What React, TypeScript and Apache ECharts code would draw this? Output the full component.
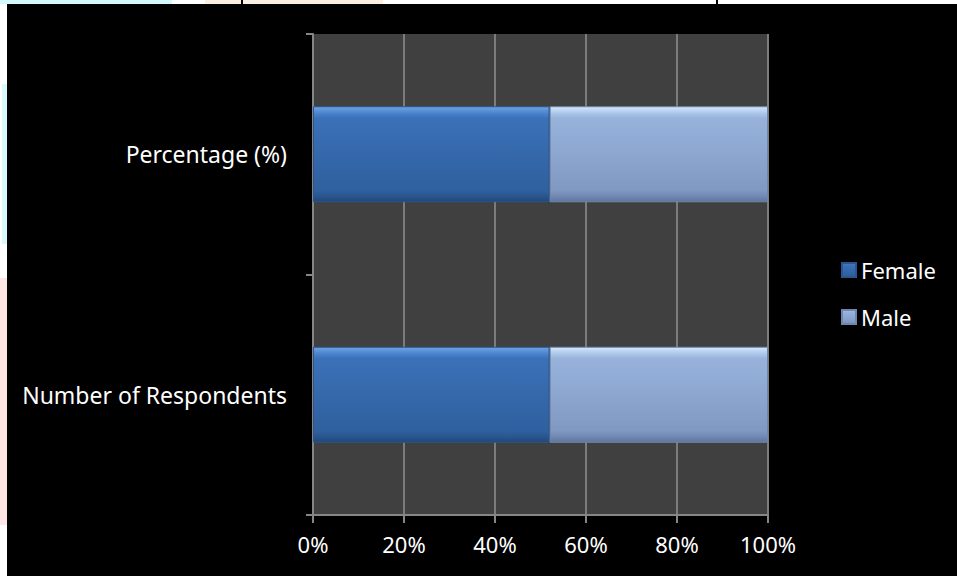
import React, { useEffect, useRef } from "react";
import * as echarts from "echarts";

// Survey breakdown by gender, shown as 100% stacked bars
const categories = ["Number of Respondents", "Percentage (%)"];
const seriesNames = ["Female", "Male"];
const femaleValues = [52, 52];
const maleValues = [48, 48];
const xTicks = [0, 20, 40, 60, 80, 100];

const FONT = "'Noto Sans', 'DejaVu Sans', sans-serif";

function bevel(stops: [number, string][]) {
  return new echarts.graphic.LinearGradient(
    0,
    0,
    0,
    1,
    stops.map(([offset, color]) => ({ offset, color }))
  );
}

const femaleFill = () =>
  bevel([
    [0, "#6fa4e4"],
    [0.07, "#4a84cc"],
    [0.12, "#3b71b8"],
    [0.88, "#2f609f"],
    [0.94, "#2a568f"],
    [1, "#22477a"],
  ]);

const maleFill = () =>
  bevel([
    [0, "#d6e8fb"],
    [0.07, "#abc6e9"],
    [0.12, "#97b3dc"],
    [0.88, "#8099c3"],
    [0.94, "#7189b3"],
    [1, "#5f769e"],
  ]);

export default function App() {
  const ref = useRef<HTMLDivElement>(null);

  useEffect(() => {
    if (!ref.current) return;
    const chart = echarts.init(ref.current, null, { renderer: "svg" });
    const values = [femaleValues, maleValues];
    const fills = [femaleFill, maleFill];
    const borders = ["#2a5590", "#6f86ad"];

    chart.setOption({
      animation: false,
      backgroundColor: "#ffffff",
      graphic: [
        // page strips around the dark panel
        { type: "rect", shape: { x: 0, y: 0, width: 172, height: 4 }, style: { fill: "#d4f8fb" }, silent: true },
        { type: "rect", shape: { x: 205, y: 0, width: 178, height: 4 }, style: { fill: "#fdeee2" }, silent: true },
        { type: "rect", shape: { x: 241, y: 0, width: 2, height: 4 }, style: { fill: "#000000" }, silent: true },
        { type: "rect", shape: { x: 716, y: 0, width: 2, height: 4 }, style: { fill: "#000000" }, silent: true },
        { type: "rect", shape: { x: 2, y: 84, width: 5, height: 160 }, style: { fill: "#d8f9fb" }, silent: true },
        { type: "rect", shape: { x: 0, y: 278, width: 7, height: 247 }, style: { fill: "#fde6e4" }, silent: true },
        {
          type: "rect",
          z: -10,
          shape: { x: 7, y: 4, width: 950, height: 572 },
          style: { fill: "#000000" },
          silent: true,
        },
      ],
      grid: {
        left: 313,
        right: 189,
        top: 34,
        bottom: 61,
        show: true,
        backgroundColor: "#404040",
        borderWidth: 0,
      },
      legend: {
        orient: "vertical",
        left: 841,
        top: 259,
        padding: 0,
        itemWidth: 14,
        itemHeight: 14,
        itemGap: 25,
        icon: "rect",
        data: seriesNames,
        textStyle: {
          color: "#ffffff",
          fontFamily: FONT,
          fontSize: 22,
          lineHeight: 22,
        },
      },
      xAxis: {
        type: "value",
        min: 0,
        max: 100,
        interval: 20,
        axisLine: { show: true, lineStyle: { color: "#868686", width: 2 } },
        axisTick: { show: true, length: 8, lineStyle: { color: "#868686", width: 2 } },
        splitLine: { show: true, lineStyle: { color: "#7c7c7c", width: 2 } },
        axisLabel: {
          color: "#ffffff",
          fontFamily: FONT,
          fontSize: 22,
          margin: 18,
          formatter: (v: number) => (xTicks.includes(v) ? `${v}%` : ""),
        },
      },
      yAxis: {
        type: "category",
        data: categories,
        axisLine: { show: true, lineStyle: { color: "#868686", width: 2 } },
        axisTick: { show: true, length: 7, lineStyle: { color: "#868686", width: 2 } },
        axisLabel: {
          color: "#ffffff",
          fontFamily: FONT,
          fontSize: 23,
          margin: 26,
        },
      },
      series: seriesNames.map((name, i) => ({
        name,
        type: "bar",
        stack: "share",
        barWidth: 96,
        data: values[i],
        itemStyle: {
          color: fills[i](),
          borderColor: borders[i],
          borderWidth: 1,
        },
      })),
    });

    return () => chart.dispose();
  }, []);

  return (
    <div
      ref={ref}
      style={{ position: "absolute", left: 0, top: 0, width: 957, height: 576 }}
    />
  );
}
